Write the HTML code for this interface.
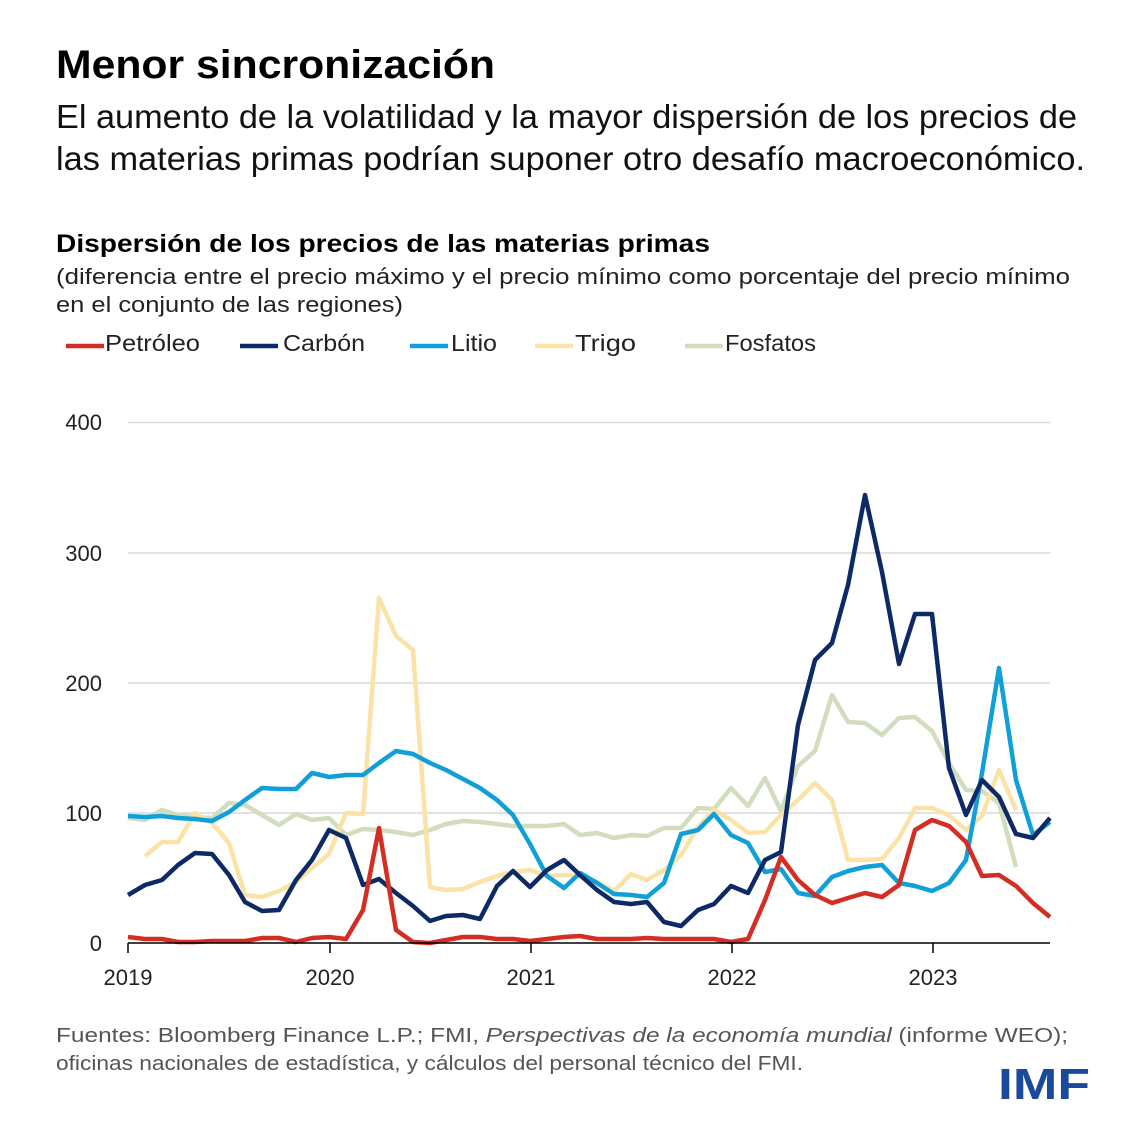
<!DOCTYPE html>
<html><head><meta charset="utf-8"><style>
body{margin:0;background:#fff;}
svg{display:block;font-family:"Liberation Sans",sans-serif;}
</style></head><body>
<svg width="1144" height="1144" viewBox="0 0 1144 1144" xmlns="http://www.w3.org/2000/svg">
<rect width="1144" height="1144" fill="#fff"/>
<text x="56" y="78" font-size="40" font-weight="bold" fill="#000" textLength="439" lengthAdjust="spacingAndGlyphs">Menor sincronización</text>
<text x="56" y="128" font-size="33" fill="#111" textLength="1021" lengthAdjust="spacingAndGlyphs">El aumento de la volatilidad y la mayor dispersión de los precios de</text>
<text x="56" y="170" font-size="33" fill="#111" textLength="1029" lengthAdjust="spacingAndGlyphs">las materias primas podrían suponer otro desafío macroeconómico.</text>
<text x="56" y="252" font-size="25" font-weight="bold" fill="#000" textLength="654" lengthAdjust="spacingAndGlyphs">Dispersión de los precios de las materias primas</text>
<text x="56" y="284" font-size="22" fill="#222" textLength="1014" lengthAdjust="spacingAndGlyphs">(diferencia entre el precio máximo y el precio mínimo como porcentaje del precio mínimo</text>
<text x="56" y="312" font-size="22" fill="#222" textLength="347" lengthAdjust="spacingAndGlyphs">en el conjunto de las regiones)</text>
<g font-size="23" fill="#222" stroke-width="4.5">
<line x1="66" y1="346" x2="104" y2="346" stroke="#d42e24"/><text x="105" y="351" textLength="95" lengthAdjust="spacingAndGlyphs">Petróleo</text>
<line x1="240" y1="346" x2="278" y2="346" stroke="#0d2a66"/><text x="283" y="351" textLength="82" lengthAdjust="spacingAndGlyphs">Carbón</text>
<line x1="410" y1="346" x2="448" y2="346" stroke="#109fd9"/><text x="451" y="351" textLength="46" lengthAdjust="spacingAndGlyphs">Litio</text>
<line x1="535" y1="346" x2="573" y2="346" stroke="#fbe3a8"/><text x="575" y="351" textLength="61" lengthAdjust="spacingAndGlyphs">Trigo</text>
<line x1="685" y1="346" x2="723" y2="346" stroke="#d2ddbe"/><text x="725" y="351" textLength="91" lengthAdjust="spacingAndGlyphs">Fosfatos</text>
</g>
<g stroke="#d9d9d9" stroke-width="1.5">
<line x1="128" y1="422.5" x2="1050" y2="422.5"/><line x1="128" y1="553" x2="1050" y2="553"/><line x1="128" y1="683" x2="1050" y2="683"/><line x1="128" y1="813" x2="1050" y2="813"/>
</g>
<g font-size="22" fill="#222" text-anchor="end">
<text x="102" y="430">400</text><text x="102" y="561">300</text><text x="102" y="691">200</text><text x="102" y="821">100</text><text x="102" y="951">0</text>
</g>
<g fill="none" stroke-width="4.5" stroke-linejoin="round">
<polyline stroke="#d2ddbe" points="128,818 145,820 162,810 178,815 195,817 212,818 229,803 245,805 262,815 279,825 296,814 312,820 329,818 346,835 363,829 379,830 396,832 413,835 430,830 446,824 463,821 480,822 497,824 513,826 530,826 547,826 564,824 580,835 597,833 614,838 631,835 647,836 664,828 681,828 698,808 714,809 731,788 748,806 765,778 781,811 798,766 815,751 832,695 848,722 865,723 882,735 899,718 915,717 932,731 949,763 966,790 982,791 999,803 1016,867"/>
<polyline stroke="#fbe3a8" points="145,856 162,842 178,842 195,813 212,823 229,843 245,895 262,897 279,891 296,882 312,868 329,854 346,813 363,814 379,598 396,636 413,650 430,887 446,890 463,889 480,882 497,876 513,872 530,870 547,876 564,875 580,876 597,882 614,891 631,874 647,880 664,870 681,855 698,827 714,810 731,820 748,833 765,832 781,815 798,800 815,783 832,800 848,860 865,860 882,859 899,838 915,808 932,808 949,815 966,830 982,816 999,770 1016,810"/>
<polyline stroke="#109fd9" points="128,816 145,817 162,816 178,818 195,819 212,821 229,812 245,800 262,788 279,789 296,789 312,773 329,777 346,775 363,775 379,763 396,751 413,754 430,763 446,770 463,779 480,788 497,800 513,815 530,844 547,876 564,888 580,873 597,883 614,894 631,895 647,897 664,883 681,834 698,830 714,814 731,835 748,843 765,872 781,869 798,893 815,896 832,877 848,871 865,867 882,865 899,883 915,886 932,891 949,883 966,860 982,773 999,668 1016,780 1033,835 1050,822"/>
<polyline stroke="#0d2a66" points="128,895 145,885 162,880 178,865 195,853 212,854 229,875 245,902 262,911 279,910 296,880 312,860 329,830 346,838 363,885 379,879 396,893 413,906 430,921 446,916 463,915 480,919 497,886 513,871 530,887 547,870 564,860 580,875 597,890 614,902 631,904 647,902 664,922 681,926 698,910 714,904 731,886 748,893 765,860 781,852 798,725 815,660 832,643 848,585 865,495 882,572 899,664 915,614 932,614 949,768 966,815 982,780 999,797 1016,834 1033,838 1050,818"/>
<polyline stroke="#d42e24" points="128,937 145,939 162,939 178,942 195,942 212,941 229,941 245,941 262,938 279,938 296,942 312,938 329,937 346,939 363,910 379,828 396,930 413,942 430,943 446,940 463,937 480,937 497,939 513,939 530,941 547,939 564,937 580,936 597,939 614,939 631,939 647,938 664,939 681,939 698,939 714,939 731,942 748,939 765,900 781,857 798,880 815,895 832,903 848,898 865,893 882,897 899,885 915,830 932,820 949,826 966,842 982,876 999,875 1016,886 1033,903 1050,917"/>
</g>
<g stroke="#000" stroke-width="1.5">
<line x1="128" y1="943" x2="1050" y2="943"/>
<line x1="128" y1="943" x2="128" y2="953"/><line x1="330" y1="943" x2="330" y2="953"/><line x1="531" y1="943" x2="531" y2="953"/><line x1="732" y1="943" x2="732" y2="953"/><line x1="933" y1="943" x2="933" y2="953"/>
</g>
<g font-size="22" fill="#222" text-anchor="middle">
<text x="128" y="985">2019</text><text x="330" y="985">2020</text><text x="531" y="985">2021</text><text x="732" y="985">2022</text><text x="933" y="985">2023</text>
</g>
<text x="56" y="1042" font-size="20" fill="#555" textLength="1012" lengthAdjust="spacingAndGlyphs">Fuentes: Bloomberg Finance L.P.; FMI, <tspan font-style="italic">Perspectivas de la economía mundial</tspan> (informe WEO);</text>
<text x="56" y="1070" font-size="20" fill="#555" textLength="747" lengthAdjust="spacingAndGlyphs">oficinas nacionales de estadística, y cálculos del personal técnico del FMI.</text>
<text x="1090" y="1099" font-size="44" font-weight="bold" fill="#1b4a9c" text-anchor="end" textLength="92" lengthAdjust="spacingAndGlyphs">IMF</text>
</svg>
</body></html>
